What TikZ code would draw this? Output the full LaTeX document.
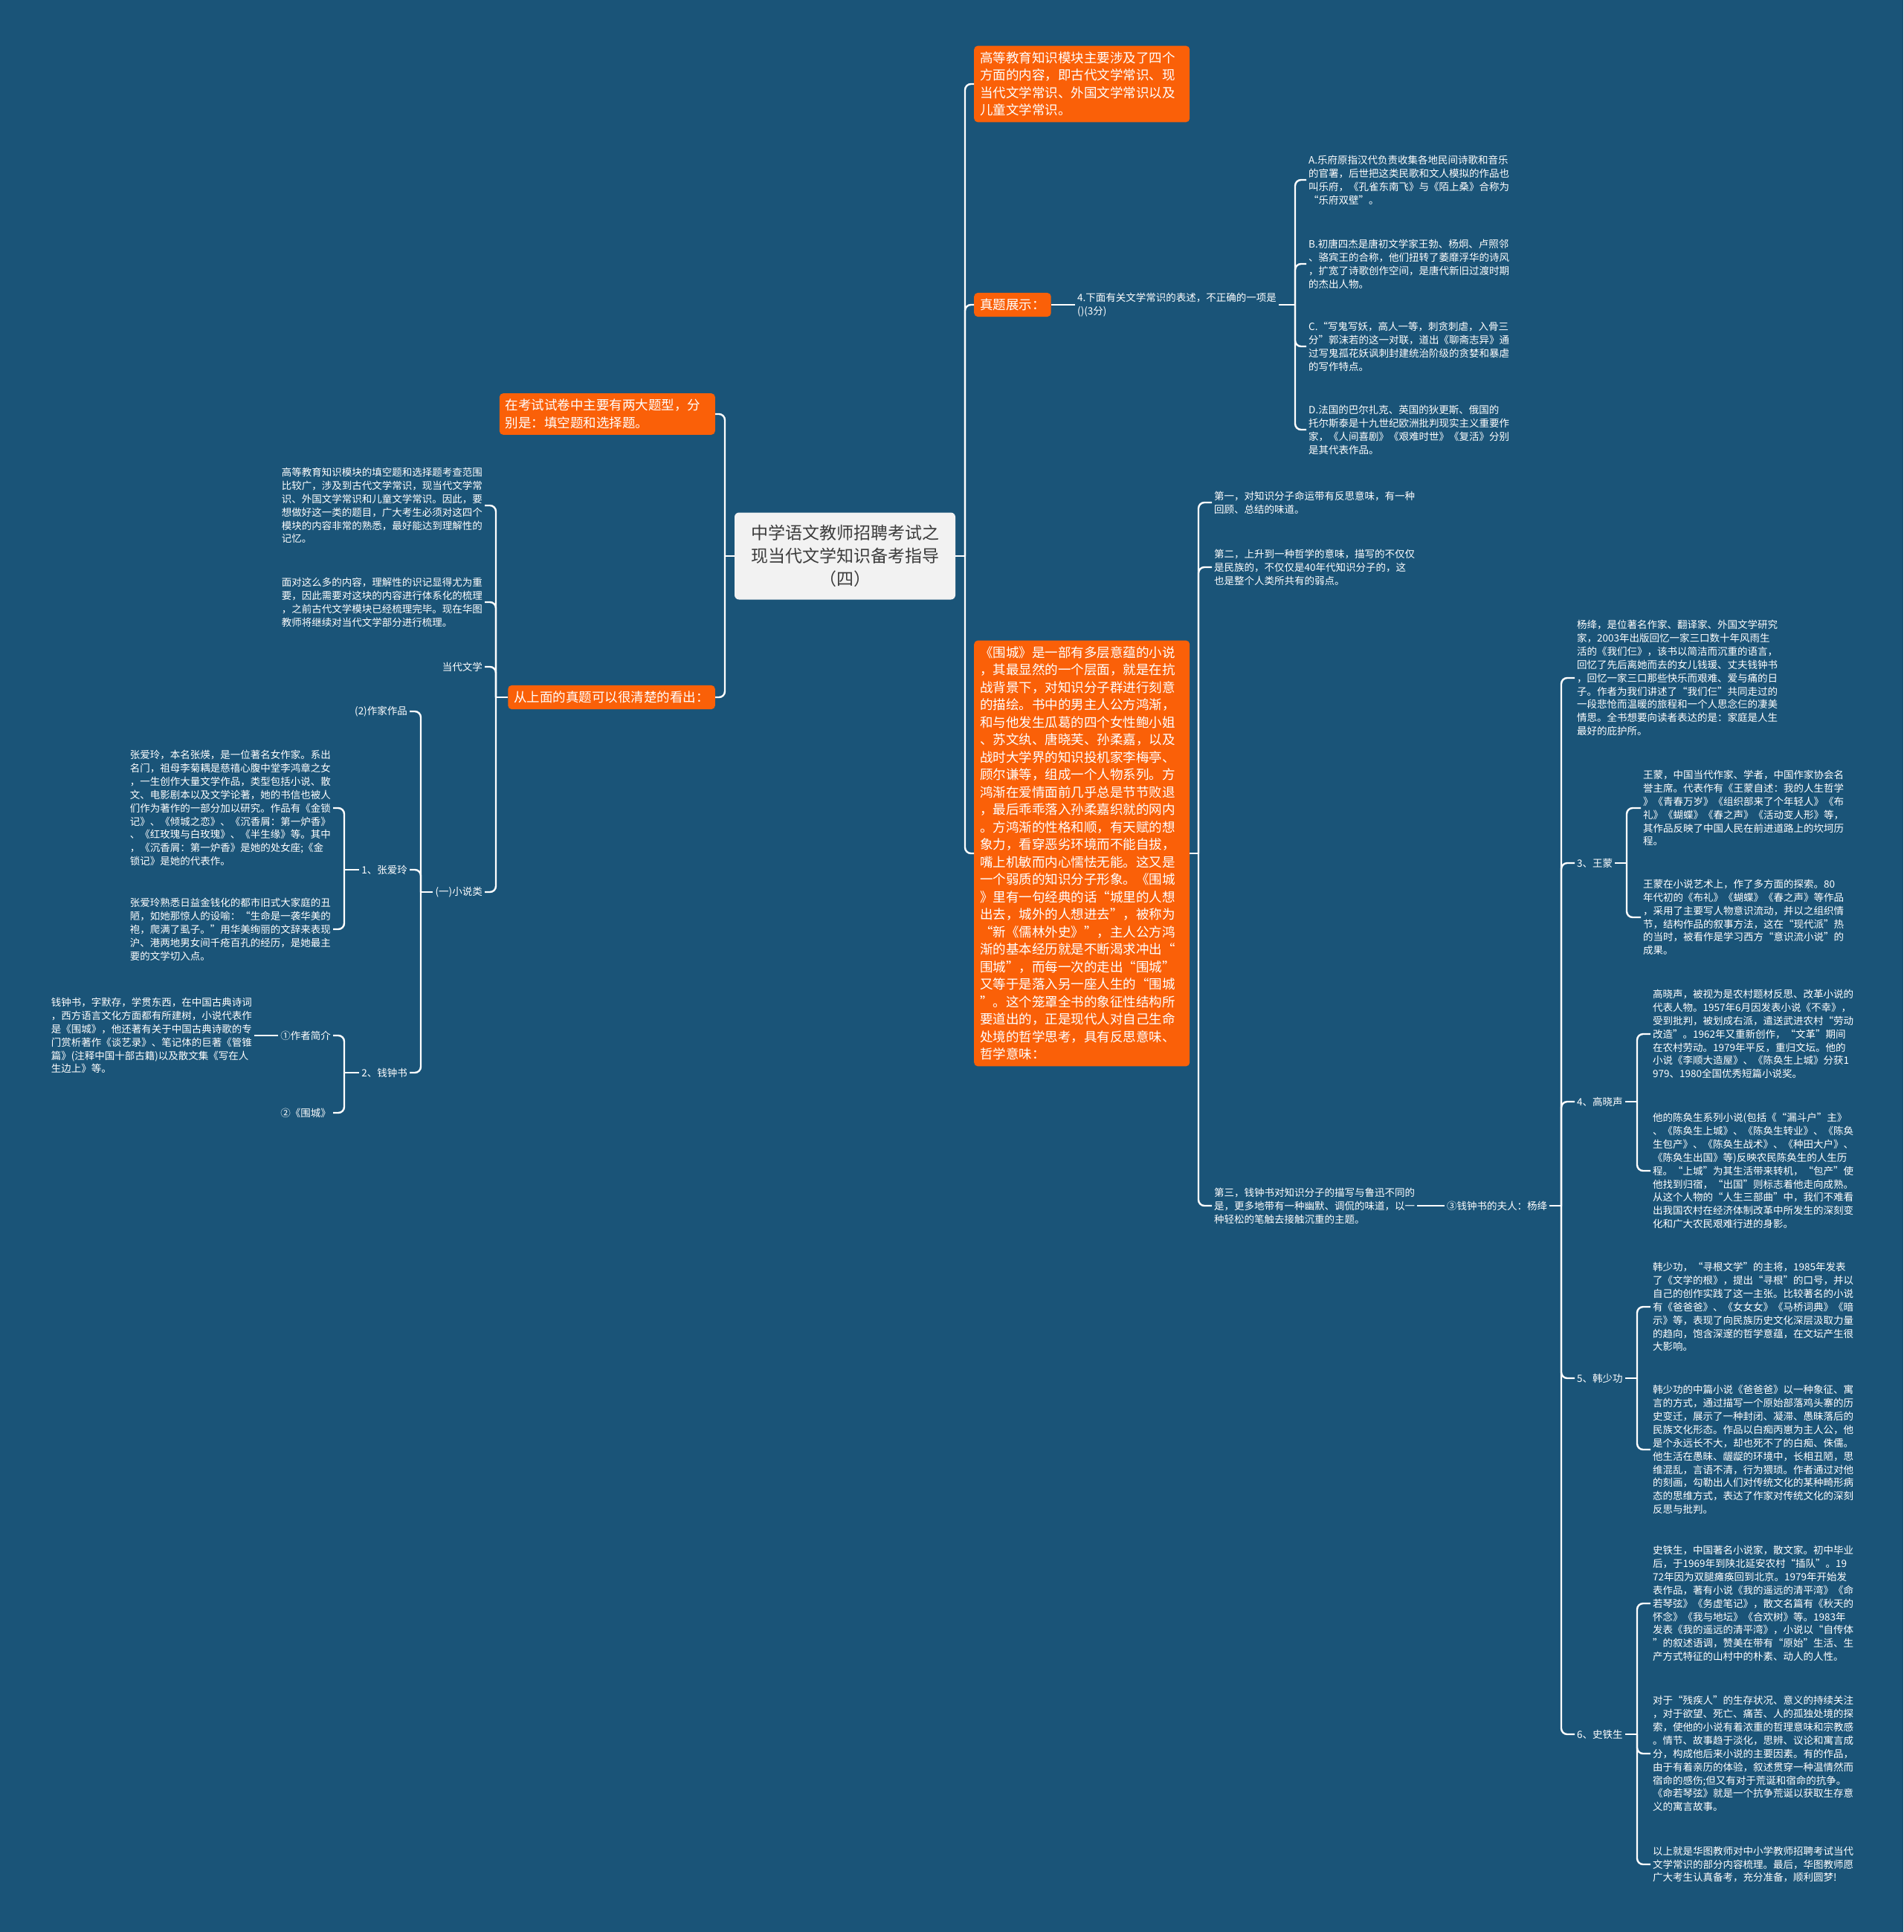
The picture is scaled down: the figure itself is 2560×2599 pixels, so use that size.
\documentclass[tikz,border=0pt]{standalone}
\usepackage{fontspec}
\setmainfont{Noto Sans CJK SC}
\usetikzlibrary{calc}
\definecolor{mbg}{RGB}{26,84,120}
\definecolor{morange}{RGB}{250,96,8}
\definecolor{mcenter}{RGB}{242,242,242}
\definecolor{mdark}{RGB}{60,60,60}
\begin{document}
\begin{tikzpicture}[x=1pt,y=-1pt,
  obox/.style={fill=morange, rounded corners=5pt, text=white, font=\fontsize{17.5pt}{23.5pt}\selectfont, align=left, inner xsep=8pt, inner ysep=8pt},
  obw/.style={obox, text width=274pt},
  sm/.style={text=white, font=\fontsize{13.5pt}{17.9pt}\selectfont, align=left, inner sep=3pt},
  conn/.style={draw=white, line width=2.4pt, rounded corners=8pt},
  ]
\useasboundingbox (0,0) rectangle (2560,2599);
\fill[mbg] (0,0) rectangle (2560,2599);

% ---------- root ----------
\node[fill=mcenter, text=mdark, rounded corners=6pt, align=center, font=\fontsize{23pt}{31pt}\selectfont, minimum width=297pt, minimum height=117pt, inner sep=0pt] (root) at (1136.5,748) {中学语文教师招聘考试之\\现当代文学知识备考指导\\（四）};

% ---------- right side ----------
\node[obw, anchor=west] (o1) at (1310,113) {高等教育知识模块主要涉及了四个\\方面的内容，即古代文学常识、现\\当代文学常识、外国文学常识以及\\儿童文学常识。};
\node[obox, anchor=west] (o2) at (1310,410) {真题展示：};
\node[obw, anchor=west] (o3) at (1310,1148) {《围城》是一部有多层意蕴的小说\\，其最显然的一个层面，就是在抗\\战背景下，对知识分子群进行刻意\\的描绘。书中的男主人公方鸿渐，\\和与他发生瓜葛的四个女性鲍小姐\\、苏文纨、唐晓芙、孙柔嘉，以及\\战时大学界的知识投机家李梅亭、\\顾尔谦等，组成一个人物系列。方\\鸿渐在爱情面前几乎总是节节败退\\，最后乖乖落入孙柔嘉织就的网内\\。方鸿渐的性格和顺，有天赋的想\\象力，看穿恶劣环境而不能自拔，\\嘴上机敏而内心懦怯无能。这又是\\一个弱质的知识分子形象。《围城\\》里有一句经典的话“城里的人想\\出去，城外的人想进去”，被称为\\“新《儒林外史》”，主人公方鸿\\渐的基本经历就是不断渴求冲出“\\围城”，而每一次的走出“围城”\\又等于是落入另一座人生的“围城\\”。这个笼罩全书的象征性结构所\\要道出的，正是现代人对自己生命\\处境的哲学思考，具有反思意味、\\哲学意味：};

\coordinate (tr) at (1298,748);
\draw[conn] (root.east) -- (tr);
\draw[conn] (tr) |- (o1.west);
\draw[conn] (tr) |- (o2.west);
\draw[conn] (tr) |- (o3.west);

% question
\node[sm, anchor=west] (q4) at (1446,410) {4.下面有关文学常识的表述，不正确的一项是\\()(3分)};
\draw[conn] (o2.east) -- (q4.west);
\node[sm, anchor=west] (qa) at (1757,242) {A.乐府原指汉代负责收集各地民间诗歌和音乐\\的官署，后世把这类民歌和文人模拟的作品也\\叫乐府，《孔雀东南飞》与《陌上桑》合称为\\“乐府双壁”。};
\node[sm, anchor=west] (qb) at (1757,355) {B.初唐四杰是唐初文学家王勃、杨炯、卢照邻\\、骆宾王的合称，他们扭转了萎靡浮华的诗风\\，扩宽了诗歌创作空间，是唐代新旧过渡时期\\的杰出人物。};
\node[sm, anchor=west] (qc) at (1757,466) {C.“写鬼写妖，高人一等，刺贪刺虐，入骨三\\分”郭沫若的这一对联，道出《聊斋志异》通\\过写鬼孤花妖讽刺封建统治阶级的贪婪和暴虐\\的写作特点。};
\node[sm, anchor=west] (qd) at (1757,578) {D.法国的巴尔扎克、英国的狄更斯、俄国的\\托尔斯泰是十九世纪欧洲批判现实主义重要作\\家，《人间喜剧》《艰难时世》《复活》分别\\是其代表作品。};
\coordinate (bqa) at (1742,410);
\draw[conn] (q4.east) -- (bqa);
\foreach \n in {qa,qb,qc,qd} \draw[conn] (bqa) |- (\n.west);

% weicheng children
\node[sm, anchor=west] (w1) at (1630,676) {第一，对知识分子命运带有反思意味，有一种\\回顾、总结的味道。};
\node[sm, anchor=west] (w2) at (1630,763) {第二，上升到一种哲学的意味，描写的不仅仅\\是民族的，不仅仅是40年代知识分子的，这\\也是整个人类所共有的弱点。};
\node[sm, anchor=west] (w3) at (1630,1622) {第三，钱钟书对知识分子的描写与鲁迅不同的\\是，更多地带有一种幽默、调侃的味道，以一\\种轻松的笔触去接触沉重的主题。};
\coordinate (bw) at (1612,1148);
\draw[conn] (o3.east) -- (bw);
\foreach \n in {w1,w2,w3} \draw[conn] (bw) |- (\n.west);

\node[sm, anchor=west] (yj) at (1943,1622) {③钱钟书的夫人：杨绛};
\draw[conn] (w3.east) -- (yj.west);
\coordinate (by) at (2100,1622);
\draw[conn] (yj.east) -- (by);

\node[sm, anchor=west] (yjt) at (2118,912) {杨绛，是位著名作家、翻译家、外国文学研究\\家，2003年出版回忆一家三口数十年风雨生\\活的《我们仨》，该书以简洁而沉重的语言，\\回忆了先后离她而去的女儿钱瑗、丈夫钱钟书\\，回忆一家三口那些快乐而艰难、爱与痛的日\\子。作者为我们讲述了“我们仨”共同走过的\\一段悲怆而温暖的旅程和一个人思念仨的凄美\\情思。全书想要向读者表达的是：家庭是人生\\最好的庇护所。};
\node[sm, anchor=west] (wm) at (2118,1161) {3、王蒙};
\node[sm, anchor=west] (gx) at (2118,1482) {4、高晓声};
\node[sm, anchor=west] (hs) at (2118,1854) {5、韩少功};
\node[sm, anchor=west] (sts) at (2118,2333) {6、史铁生};
\foreach \n in {yjt,wm,gx,hs,sts} \draw[conn] (by) |- (\n.west);

% Wang Meng
\node[sm, anchor=west] (wm1) at (2207,1087) {王蒙，中国当代作家、学者，中国作家协会名\\誉主席。代表作有《王蒙自述：我的人生哲学\\》《青春万岁》《组织部来了个年轻人》《布\\礼》《蝴蝶》《春之声》《活动变人形》等，\\其作品反映了中国人民在前进道路上的坎坷历\\程。};
\node[sm, anchor=west] (wm2) at (2207,1234) {王蒙在小说艺术上，作了多方面的探索。80\\年代初的《布礼》《蝴蝶》《春之声》等作品\\，采用了主要写人物意识流动，并以之组织情\\节，结构作品的叙事方法，这在“现代派”热\\的当时，被看作是学习西方“意识流小说”的\\成果。};
\coordinate (bwm) at (2188,1161);
\draw[conn] (wm.east) -- (bwm);
\foreach \n in {wm1,wm2} \draw[conn] (bwm) |- (\n.west);

% Gao Xiaosheng
\node[sm, anchor=west] (gx1) at (2220,1391) {高晓声，被视为是农村题材反思、改革小说的\\代表人物。1957年6月因发表小说《不幸》，\\受到批判，被划成右派，遣送武进农村“劳动\\改造”。1962年又重新创作，“文革”期间\\在农村劳动。1979年平反，重归文坛。他的\\小说《李顺大造屋》、《陈奂生上城》分获1\\979、1980全国优秀短篇小说奖。};
\node[sm, anchor=west] (gx2) at (2220,1575) {他的陈奂生系列小说(包括《“漏斗户”主》\\、《陈奂生上城》、《陈奂生转业》、《陈奂\\生包产》、《陈奂生战术》、《种田大户》、\\《陈奂生出国》等)反映农民陈奂生的人生历\\程。“上城”为其生活带来转机，“包产”使\\他找到归宿，“出国”则标志着他走向成熟。\\从这个人物的“人生三部曲”中，我们不难看\\出我国农村在经济体制改革中所发生的深刻变\\化和广大农民艰难行进的身影。};
\coordinate (bgx) at (2202,1482);
\draw[conn] (gx.east) -- (bgx);
\foreach \n in {gx1,gx2} \draw[conn] (bgx) |- (\n.west);

% Han Shaogong
\node[sm, anchor=west] (hs1) at (2220,1758) {韩少功，“寻根文学”的主将，1985年发表\\了《文学的根》，提出“寻根”的口号，并以\\自己的创作实践了这一主张。比较著名的小说\\有《爸爸爸》、《女女女》《马桥词典》《暗\\示》等，表现了向民族历史文化深层汲取力量\\的趋向，饱含深邃的哲学意蕴，在文坛产生很\\大影响。};
\node[sm, anchor=west] (hs2) at (2220,1950) {韩少功的中篇小说《爸爸爸》以一种象征、寓\\言的方式，通过描写一个原始部落鸡头寨的历\\史变迁，展示了一种封闭、凝滞、愚昧落后的\\民族文化形态。作品以白痴丙崽为主人公，他\\是个永远长不大，却也死不了的白痴、侏儒。\\他生活在愚昧、龌龊的环境中，长相丑陋，思\\维混乱，言语不清，行为猥琐。作者通过对他\\的刻画，勾勒出人们对传统文化的某种畸形病\\态的思维方式，表达了作家对传统文化的深刻\\反思与批判。};
\coordinate (bhs) at (2202,1854);
\draw[conn] (hs.east) -- (bhs);
\foreach \n in {hs1,hs2} \draw[conn] (bhs) |- (\n.west);

% Shi Tiesheng
\node[sm, anchor=west] (st1) at (2220,2157) {史铁生，中国著名小说家，散文家。初中毕业\\后，于1969年到陕北延安农村“插队”。19\\72年因为双腿瘫痪回到北京。1979年开始发\\表作品，著有小说《我的遥远的清平湾》《命\\若琴弦》《务虚笔记》，散文名篇有《秋天的\\怀念》《我与地坛》《合欢树》等。1983年\\发表《我的遥远的清平湾》，小说以“自传体\\”的叙述语调，赞美在带有“原始”生活、生\\产方式特征的山村中的朴素、动人的人性。};
\node[sm, anchor=west] (st2) at (2220,2359) {对于“残疾人”的生存状况、意义的持续关注\\，对于欲望、死亡、痛苦、人的孤独处境的探\\索，使他的小说有着浓重的哲理意味和宗教感\\。情节、故事趋于淡化，思辨、议论和寓言成\\分，构成他后来小说的主要因素。有的作品，\\由于有着亲历的体验，叙述贯穿一种温情然而\\宿命的感伤;但又有对于荒诞和宿命的抗争。\\《命若琴弦》就是一个抗争荒诞以获取生存意\\义的寓言故事。};
\node[sm, anchor=west] (st3) at (2220,2508) {以上就是华图教师对中小学教师招聘考试当代\\文学常识的部分内容梳理。最后，华图教师愿\\广大考生认真备考，充分准备，顺利圆梦!};
\coordinate (bst) at (2202,2333);
\draw[conn] (sts.east) -- (bst);
\foreach \n in {st1,st2,st3} \draw[conn] (bst) |- (\n.west);

% ---------- left side ----------
\node[obw, anchor=east] (l1) at (962,557) {在考试试卷中主要有两大题型，分\\别是：填空题和选择题。};
\node[obox, anchor=east] (l2) at (962,938) {从上面的真题可以很清楚的看出：};
\coordinate (tl) at (975,748);
\draw[conn] (root.west) -- (tl);
\draw[conn] (tl) |- (l1.east);
\draw[conn] (tl) |- (l2.east);

\node[sm, anchor=east] (lt1) at (652,680) {高等教育知识模块的填空题和选择题考查范围\\比较广，涉及到古代文学常识，现当代文学常\\识、外国文学常识和儿童文学常识。因此，要\\想做好这一类的题目，广大考生必须对这四个\\模块的内容非常的熟悉，最好能达到理解性的\\记忆。};
\node[sm, anchor=east] (lt2) at (652,810) {面对这么多的内容，理解性的识记显得尤为重\\要，因此需要对这块的内容进行体系化的梳理\\，之前古代文学模块已经梳理完毕。现在华图\\教师将继续对当代文学部分进行梳理。};
\node[sm, anchor=east] (lt3) at (652,897) {当代文学};
\node[sm, anchor=east] (xs) at (652,1200) {(一)小说类};
\coordinate (bl) at (667,938);
\draw[conn] (l2.west) -- (bl);
\foreach \n in {lt1,lt2,lt3,xs} \draw[conn] (bl) |- (\n.east);

\node[sm, anchor=east] (zj) at (551,957) {(2)作家作品};
\node[sm, anchor=east] (zal) at (551,1170) {1、张爱玲};
\node[sm, anchor=east] (qzs) at (551,1443) {2、钱钟书};
\coordinate (bx) at (566,1200);
\draw[conn] (xs.west) -- (bx);
\foreach \n in {zj,zal,qzs} \draw[conn] (bx) |- (\n.east);

\node[sm, anchor=east] (zat1) at (448,1087) {张爱玲，本名张煐，是一位著名女作家。系出\\名门，祖母李菊耦是慈禧心腹中堂李鸿章之女\\，一生创作大量文学作品，类型包括小说、散\\文、电影剧本以及文学论著，她的书信也被人\\们作为著作的一部分加以研究。作品有《金锁\\记》、《倾城之恋》、《沉香屑：第一炉香》\\、《红玫瑰与白玫瑰》、《半生缘》等。其中\\，《沉香屑：第一炉香》是她的处女座;《金\\锁记》是她的代表作。};
\node[sm, anchor=east] (zat2) at (448,1250) {张爱玲熟悉日益金钱化的都市旧式大家庭的丑\\陋，如她那惊人的设喻：“生命是一袭华美的\\袍，爬满了虱子。”用华美绚丽的文辞来表现\\沪、港两地男女间千疮百孔的经历，是她最主\\要的文学切入点。};
\coordinate (bz) at (463,1170);
\draw[conn] (zal.west) -- (bz);
\foreach \n in {zat1,zat2} \draw[conn] (bz) |- (\n.east);

\node[sm, anchor=east] (zzjj) at (448,1393) {①作者简介};
\node[sm, anchor=east] (wc) at (448,1497) {②《围城》};
\coordinate (bq) at (463,1443);
\draw[conn] (qzs.west) -- (bq);
\foreach \n in {zzjj,wc} \draw[conn] (bq) |- (\n.east);

\node[sm, anchor=east] (qt) at (342,1393) {钱钟书，字默存，学贯东西，在中国古典诗词\\，西方语言文化方面都有所建树，小说代表作\\是《围城》，他还著有关于中国古典诗歌的专\\门赏析著作《谈艺录》、笔记体的巨著《管锥\\篇》(注释中国十部古籍)以及散文集《写在人\\生边上》等。};
\draw[conn] (zzjj.west) -- (qt.east);
\end{tikzpicture}
\end{document}
